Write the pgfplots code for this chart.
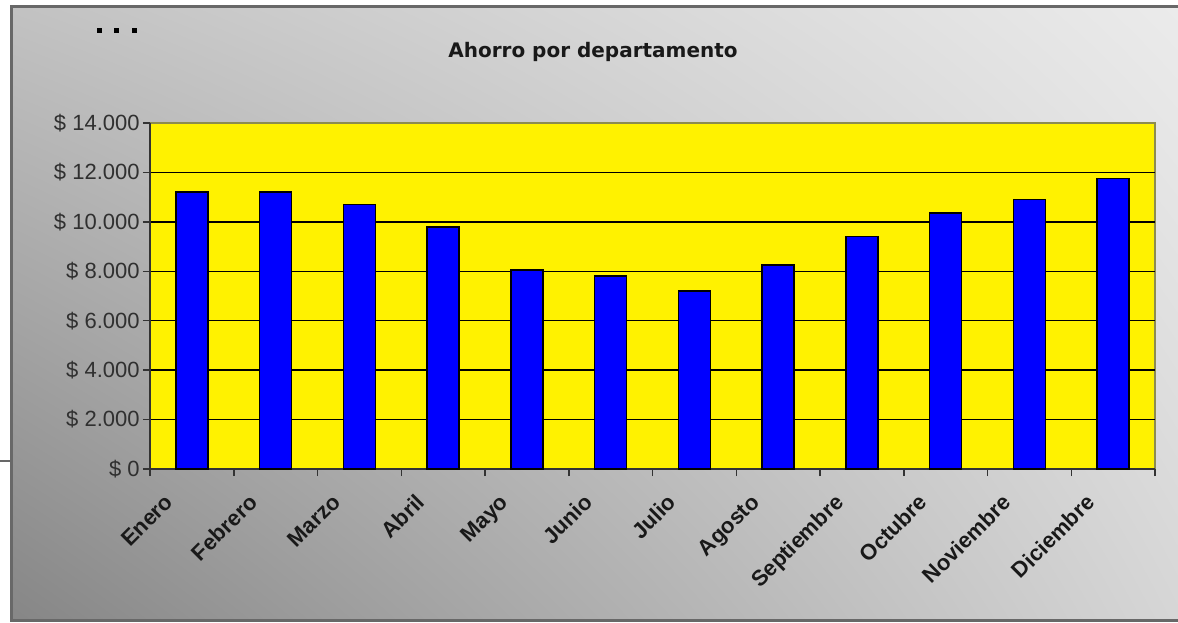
\documentclass[border=0pt]{standalone}
\usepackage{pgfplots}
\pgfplotsset{compat=1.18}
\usetikzlibrary{shadings}
\usepackage{fontspec}
\setmainfont{Liberation Sans}
\newfontfamily\titlefont{DejaVu Sans}
\definecolor{frameC}{HTML}{686868}
\definecolor{bgLL}{HTML}{868686}
\definecolor{bgUL}{HTML}{C2C2C2}
\definecolor{bgUR}{HTML}{EBEBEB}
\definecolor{bgLR}{HTML}{D6D6D6}
\definecolor{plotframe}{HTML}{8C8C50}
\definecolor{ylab}{HTML}{303030}
\begin{document}
\begin{tikzpicture}
\useasboundingbox (0,0) rectangle (589pt,311pt);
\fill[white] (0,0) rectangle (589pt,311pt);
\shade[lower left=bgLL, upper left=bgUL, upper right=bgUR, lower right=bgLR] (5pt,1pt) rectangle (589pt,307.5pt);
\draw[frameC, line width=1.5pt] (589pt,307.5pt) -- (5.75pt,307.5pt) -- (5.75pt,0.75pt) -- (589pt,0.75pt);
\draw[frameC, line width=1pt] (0pt,80.5pt) -- (5pt,80.5pt);
\fill[black] (48.25pt,294.5pt) rectangle ++(2.5pt,2.5pt);
\fill[black] (57pt,294.5pt) rectangle ++(2.5pt,2.5pt);
\fill[black] (66pt,294.5pt) rectangle ++(2.5pt,2.5pt);
\node[font=\titlefont\bfseries\fontsize{10}{12}\selectfont, text=black!90] at (296.5pt,285pt) {Ahorro por departamento};
\begin{axis}[
  at={(75pt,76.5pt)}, anchor=south west,
  scale only axis, width=502.5pt, height=173pt,
  xmin=-0.5, xmax=11.5, ymin=0, ymax=14000,
  axis x line*=bottom, axis y line*=left,
  axis line style={draw=black!80, line width=0.75pt, -},
  axis background/.style={fill=yellow, draw=plotframe, line width=0.6pt},
  ytick={0,2000,4000,6000,8000,10000,12000},
  yticklabels={\$ 0,\$ 2.000,\$ 4.000,\$ 6.000,\$ 8.000,\$ 10.000,\$ 12.000},
  extra y ticks={14000},
  extra y tick labels={\$ 14.000},
  extra y tick style={grid=none},
  xtick={0,1,2,3,4,5,6,7,8,9,10,11},
  xticklabels={Enero,Febrero,Marzo,Abril,Mayo,Junio,Julio,Agosto,Septiembre,Octubre,Noviembre,Diciembre},
  minor xtick={-0.5,0.5,1.5,2.5,3.5,4.5,5.5,6.5,7.5,8.5,9.5,10.5,11.5},
  tick align=outside,
  major tick length=3.5pt, minor tick length=3.5pt,
  major x tick style={draw=none},
  minor x tick style={draw=black!80, line width=0.75pt},
  y tick style={draw=black!80, line width=0.75pt},
  ymajorgrids,
  major grid style={draw=black, line width=0.75pt},
  yticklabel style={font=\fontsize{11}{13}\selectfont, text=ylab, inner sep=1.5pt},
  xticklabel style={font=\bfseries\fontsize{11}{13}\selectfont, text=black!90, rotate=45, anchor=north east, inner sep=1pt, xshift=-14.75pt, yshift=5.25pt},
  scaled y ticks=false,
]
\addplot[ybar, bar width=16pt, fill=blue, draw=black, line width=0.75pt] coordinates {
(0,11200) (1,11200) (2,10700) (3,9800) (4,8050) (5,7800) (6,7200) (7,8250) (8,9400) (9,10350) (10,10900) (11,11750)
};
\end{axis}
\end{tikzpicture}
\end{document}
